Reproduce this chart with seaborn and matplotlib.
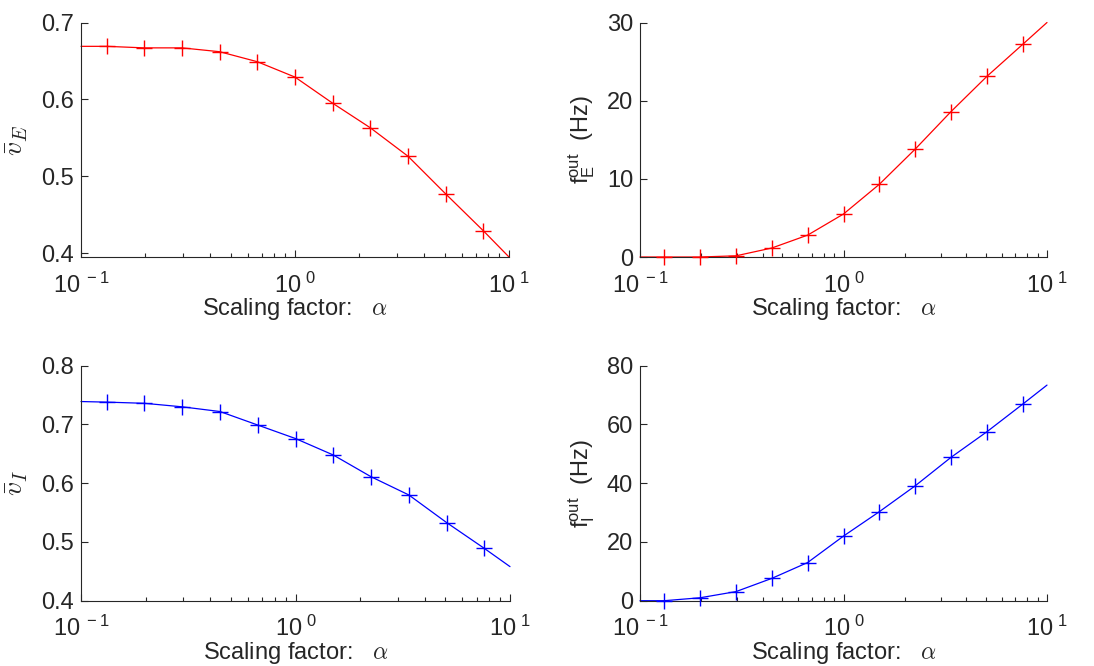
import numpy as np
import pandas as pd
import matplotlib
matplotlib.use("Agg")
import matplotlib.pyplot as plt
from matplotlib.ticker import LogLocator, NullFormatter, FixedLocator
import seaborn as sns

# ---- data ----
alpha_markers = [0.1317, 0.1975, 0.2963, 0.4444, 0.6667, 1.0, 1.5, 2.25, 3.375, 5.0625, 7.594]
alpha_line = [0.1] + alpha_markers + [10.0]

vE_markers = [0.669, 0.667, 0.667, 0.662, 0.649, 0.629, 0.595, 0.563, 0.526, 0.477, 0.429]
vE_line = [0.669] + vE_markers + [0.395]

fE_markers = [0.0, 0.0, 0.15, 1.15, 2.8, 5.5, 9.3, 13.8, 18.6, 23.1, 27.2]
fE_line = [0.0] + fE_markers + [30.0]

vI_markers = [0.738, 0.736, 0.730, 0.722, 0.699, 0.676, 0.648, 0.611, 0.580, 0.533, 0.489]
vI_line = [0.739] + vI_markers + [0.458]

fI_markers = [0.0, 1.0, 3.1, 7.6, 13.0, 22.0, 30.3, 39.1, 48.8, 57.5, 66.9]
fI_line = [0.0] + fI_markers + [73.4]

xlabel_text = r"Scaling factor:   $\alpha$"

# ---- style ----
sns.set_theme(style="white")
plt.rcParams.update({
    "font.family": ["Liberation Sans", "DejaVu Sans"],
    "mathtext.fontset": "custom",
    "mathtext.rm": "Liberation Sans",
    "mathtext.it": "Liberation Sans:italic",
    "mathtext.bf": "Liberation Sans:bold",
    "xtick.direction": "in",
    "ytick.direction": "in",
    "axes.edgecolor": "#262626",
    "xtick.color": "#262626",
    "ytick.color": "#262626",
    "axes.labelcolor": "#262626",
    "axes.linewidth": 0.8,
})

fig = plt.figure(figsize=(10.94, 6.66), dpi=100)

W, H = 1094.0, 666.0
pos = {
    "tl": [81 / W, 1 - 257 / H, 428 / W, 234.5 / H],
    "tr": [640 / W, 1 - 257 / H, 407 / W, 234.5 / H],
    "bl": [81 / W, 1 - 600.7 / H, 429 / W, 235 / H],
    "br": [640 / W, 1 - 600.7 / H, 407 / W, 235 / H],
}

panels = [
    ("tl", vE_line, vE_markers, "red", (0.395, 0.7), [0.4, 0.5, 0.6, 0.7], r"$\bar{v}_E$", "cm"),
    ("tr", fE_line, fE_markers, "red", (0, 30), [0, 10, 20, 30], r"$\mathrm{f}_{\mathrm{E}}^{\mathrm{out}}$  (Hz)", "custom"),
    ("bl", vI_line, vI_markers, "blue", (0.4, 0.8), [0.4, 0.5, 0.6, 0.7, 0.8], r"$\bar{v}_I$", "cm"),
    ("br", fI_line, fI_markers, "blue", (0, 80), [0, 20, 40, 60, 80], r"$\mathrm{f}_{\mathrm{I}}^{\mathrm{out}}$  (Hz)", "custom"),
]

fs = 17
for key, yl, ym, col, ylim, yticks, ylab, mfam in panels:
    ax = fig.add_axes(pos[key])
    dfl = pd.DataFrame({"x": alpha_line, "y": yl})
    dfm = pd.DataFrame({"x": alpha_markers, "y": ym})
    sns.lineplot(data=dfl, x="x", y="y", color=col, linewidth=0.9, ax=ax, clip_on=False)
    sns.scatterplot(data=dfm, x="x", y="y", color=col, marker="+", s=120, linewidth=1.0, ax=ax, clip_on=False, zorder=3)
    ax.set_xscale("log")
    ax.set_xlim(0.1, 10)
    ax.set_ylim(*ylim)
    ax.yaxis.set_major_locator(FixedLocator(yticks))
    ax.set_yticklabels([("%g" % t) for t in yticks])
    ax.xaxis.set_major_locator(FixedLocator([0.1, 1, 10]))
    ax.xaxis.set_minor_locator(LogLocator(base=10, subs=np.arange(2, 10) * 1.0))
    ax.xaxis.set_minor_formatter(NullFormatter())
    ax.set_xticklabels([r"$\mathdefault{10^{\ -1}}$", r"$\mathdefault{10^{\ 0}}$", r"$\mathdefault{10^{\ 1}}$"])
    ax.tick_params(axis="both", which="major", length=5, width=0.8, labelsize=fs)
    ax.tick_params(axis="y", which="major", pad=5)
    ax.tick_params(axis="x", which="major", pad=11)
    ax.tick_params(axis="x", which="minor", length=3, width=0.8, bottom=True)
    ax.tick_params(axis="y", left=True)
    ax.tick_params(axis="x", bottom=True)
    for s in ["top", "right"]:
        ax.spines[s].set_visible(False)
    ax.set_xlabel(xlabel_text, fontsize=fs, math_fontfamily="cm", labelpad=-1)
    if mfam == "cm":
        ax.set_ylabel(ylab, fontsize=fs + 3, math_fontfamily="cm", labelpad=8)
    else:
        ax.set_ylabel(ylab, fontsize=fs, math_fontfamily="custom", labelpad=7)

fig.savefig("out.png", dpi=100)
